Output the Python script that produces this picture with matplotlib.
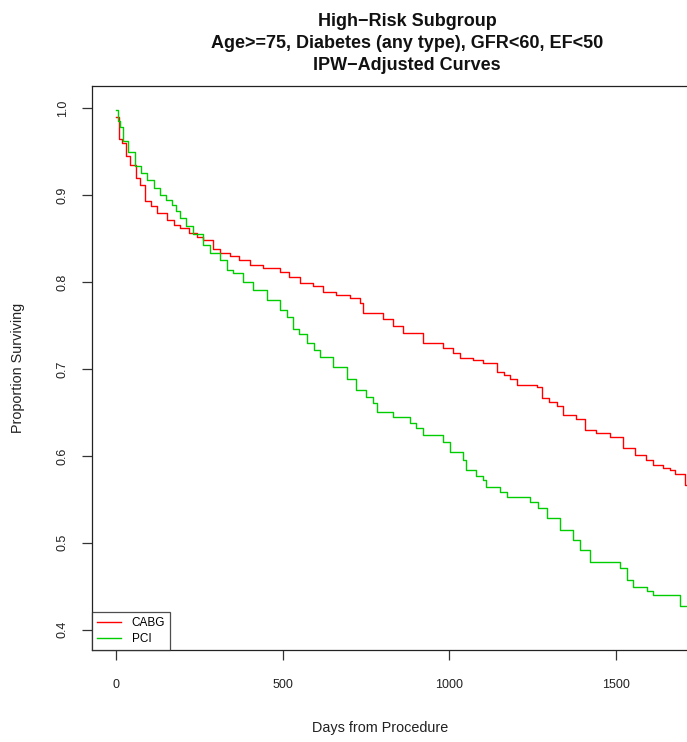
import matplotlib
matplotlib.use("Agg")
import matplotlib.pyplot as plt

plt.rcParams['font.family'] = ['Liberation Sans', 'DejaVu Sans']

title_lines = ["High\u2212Risk Subgroup",
               "Age>=75, Diabetes (any type), GFR<60, EF<50",
               "IPW\u2212Adjusted Curves"]
xlabel = "Days from Procedure"
ylabel = "Proportion Surviving"
series_names = ["CABG", "PCI"]

cabg_days = [0, 10, 18, 30, 42, 60, 72, 87, 105, 123, 153, 175, 192, 220, 243, 260,
             290, 312, 342, 370, 402, 440, 492, 520, 552, 590, 621, 660, 702, 732,
             741, 801, 830, 861, 921, 981, 1010, 1032, 1070, 1101, 1143, 1165, 1182,
             1203, 1263, 1278, 1300, 1323, 1341, 1380, 1407, 1440, 1482, 1521, 1557,
             1590, 1611, 1640, 1662, 1677, 1707, 1750]
cabg_surv = [0.990, 0.965, 0.960, 0.945, 0.935, 0.920, 0.912, 0.893, 0.888, 0.880,
             0.871, 0.866, 0.862, 0.857, 0.852, 0.848, 0.838, 0.833, 0.830, 0.826,
             0.820, 0.816, 0.812, 0.806, 0.799, 0.795, 0.789, 0.785, 0.782, 0.776,
             0.764, 0.757, 0.750, 0.741, 0.730, 0.724, 0.718, 0.713, 0.710, 0.707,
             0.697, 0.693, 0.689, 0.682, 0.679, 0.667, 0.662, 0.657, 0.647, 0.642,
             0.630, 0.626, 0.622, 0.609, 0.601, 0.595, 0.590, 0.586, 0.584, 0.579,
             0.567, 0.567]

pci_days = [0, 6, 12, 21, 35, 57, 75, 93, 115, 132, 150, 168, 180, 192, 210, 231,
            261, 282, 312, 333, 351, 380, 411, 453, 492, 513, 531, 550, 573, 595,
            612, 651, 693, 720, 750, 771, 783, 831, 882, 900, 921, 981, 1002, 1041,
            1050, 1080, 1101, 1110, 1152, 1173, 1242, 1265, 1293, 1332, 1371, 1392,
            1422, 1512, 1533, 1551, 1593, 1611, 1692, 1750]
pci_surv = [0.998, 0.985, 0.979, 0.962, 0.950, 0.934, 0.925, 0.917, 0.908, 0.900,
            0.895, 0.889, 0.882, 0.874, 0.865, 0.855, 0.843, 0.833, 0.826, 0.814,
            0.810, 0.800, 0.791, 0.779, 0.768, 0.760, 0.746, 0.740, 0.730, 0.722,
            0.714, 0.702, 0.688, 0.676, 0.668, 0.661, 0.651, 0.645, 0.638, 0.632,
            0.624, 0.616, 0.605, 0.595, 0.584, 0.577, 0.572, 0.564, 0.559, 0.553,
            0.547, 0.540, 0.529, 0.515, 0.503, 0.492, 0.478, 0.471, 0.457, 0.449,
            0.444, 0.440, 0.427, 0.427]

x_ticks = [0, 500, 1000, 1500]
y_ticks = [0.4, 0.5, 0.6, 0.7, 0.8, 0.9, 1.0]
colors = ["#FF0000", "#00CD00"]

W, H = 687, 742
fig = plt.figure(figsize=(W / 100, H / 100), dpi=100)
ax = fig.add_axes([92 / W, 1 - 650 / H, (740 - 92) / W, (650 - 86) / H])

ax.plot(cabg_days, cabg_surv, drawstyle='steps-post', color=colors[0], lw=1.0, label=series_names[0])
ax.plot(pci_days, pci_surv, drawstyle='steps-post', color=colors[1], lw=1.0, label=series_names[1])

ax.set_xlim(-72, 1872)
ax.set_ylim(0.3766, 1.0257)
ax.set_xticks(x_ticks)
ax.set_xticklabels([str(t) for t in x_ticks])
ax.set_yticks(y_ticks)
ax.set_yticklabels([f"{t:.1f}" for t in y_ticks], rotation=90, va='center')

for s in ['left', 'top', 'bottom']:
    ax.spines[s].set_color('#222222')
    ax.spines[s].set_linewidth(0.9)
ax.spines['right'].set_visible(False)

ax.tick_params(axis='both', direction='out', length=7.2, width=0.9, color='#333333',
               labelsize=9, labelcolor='#222222')
ax.tick_params(axis='x', pad=14)
ax.tick_params(axis='y', pad=9.5)

leg = ax.legend(loc='lower left', fontsize=8.5, frameon=True, fancybox=False,
                edgecolor='#222222', borderaxespad=0, handlelength=2.0,
                handletextpad=0.9, borderpad=0.45, labelspacing=0.3)
leg.get_frame().set_linewidth(0.9)

ys = [21, 43, 65]
for line, y in zip(title_lines, ys):
    fig.text(407 / W, 1 - y / H, line, ha='center', va='center', fontsize=13,
             fontweight='bold', color='#111111')

fig.text(380 / W, 1 - 728 / H, xlabel, ha='center', va='center', fontsize=10.4, color='#222222')
fig.text(18 / W, 1 - 368 / H, ylabel, ha='center', va='center', rotation=90, fontsize=10.4,
         color='#222222')

fig.savefig("out.png", dpi=100)
